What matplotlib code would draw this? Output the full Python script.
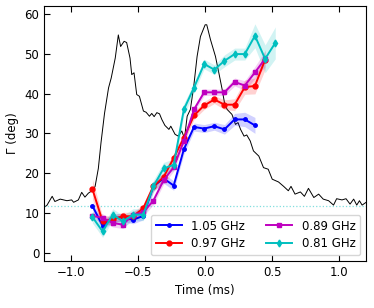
import numpy as np
import matplotlib
matplotlib.use("Agg")
import matplotlib.pyplot as plt

# pulse-phase grid (ms)
t0, dt = -0.84, 0.0757

pa_105 = [11.8, 6.8, 8.8, 8.9, 8.3, 9.3, 16.7, 18.7, 16.9, 26.0, 31.6, 31.2, 31.8, 31.0, 33.5, 33.5, 32.0]
err_105 = [1.0, 1.2, 1.0, 1.0, 1.0, 1.0, 1.2, 1.2, 1.2, 1.2, 1.0, 1.0, 1.0, 1.2, 1.5, 1.8, 2.0]
pa_097 = [16.0, 7.9, 8.5, 9.2, 9.2, 11.2, 16.7, 19.0, 23.8, 28.9, 34.5, 37.0, 38.5, 37.2, 37.2, 41.6, 41.9, 48.5]
err_097 = [2.5, 1.2, 1.0, 1.0, 1.0, 1.0, 1.2, 1.2, 1.2, 1.2, 1.0, 1.0, 1.0, 1.2, 1.5, 1.8, 2.0, 2.5]
pa_089 = [9.3, 8.8, 7.5, 7.1, 9.6, 10.2, 13.1, 18.2, 21.5, 28.1, 36.0, 40.3, 40.3, 40.3, 42.9, 42.0, 45.3, 48.7]
err_089 = [1.0, 1.0, 1.0, 1.0, 1.0, 1.0, 1.0, 1.0, 1.0, 1.0, 0.8, 0.8, 0.8, 0.8, 1.0, 1.2, 1.5, 2.0]
pa_081 = [9.0, 5.4, 9.6, 7.9, 9.6, 9.6, 16.7, 21.2, 22.1, 36.0, 41.5, 47.4, 46.0, 48.2, 49.9, 49.9, 54.5, 48.7, 52.7]
err_081 = [1.5, 1.5, 1.5, 1.5, 1.5, 1.5, 1.5, 1.5, 1.5, 1.5, 1.2, 1.2, 1.2, 1.5, 1.5, 1.5, 3.0, 3.5, 4.0]

# scaled pulse profile (ms, arbitrary units shown on the degree axis)
prof_t = [-1.2, -1.18, -1.14, -1.12, -1.08, -1.03, -0.995, -0.98, -0.945, -0.92, -0.896, -0.87, -0.834,
          -0.82, -0.796, -0.776, -0.75, -0.72, -0.70, -0.67, -0.647, -0.63, -0.604, -0.585, -0.56,
          -0.547, -0.53, -0.51, -0.49, -0.46, -0.44, -0.415, -0.398, -0.38, -0.36, -0.34, -0.323,
          -0.30, -0.27, -0.256, -0.224, -0.20, -0.174, -0.154, -0.134, -0.11, -0.085, -0.06, -0.035,
          0.0, 0.012, 0.04, 0.077, 0.102, 0.127, 0.144, 0.164, 0.20, 0.226, 0.245, 0.264, 0.29, 0.31,
          0.336, 0.36, 0.40, 0.435, 0.47, 0.50, 0.547, 0.585, 0.62, 0.64, 0.67, 0.71, 0.74, 0.77,
          0.81, 0.846, 0.88, 0.92, 0.957, 0.98, 1.02, 1.05, 1.08, 1.107, 1.13, 1.15, 1.17, 1.2]
prof_y = [11.5, 11.9, 14.2, 12.9, 13.5, 13.1, 13.3, 12.7, 13.3, 15.2, 14.0, 15.0, 15.8,
          16.7, 21.2, 27.7, 35.0, 41.4, 43.9, 48.9, 54.7, 51.8, 53.1, 52.8, 48.9,
          44.75, 45.2, 39.75, 39.3, 35.6, 35.3, 34.3, 35.0, 34.2, 35.2, 34.9, 33.5,
          32.0, 31.0, 31.8, 29.75, 29.3, 30.6, 28.7, 34.3, 36.0, 41.8, 49.3, 54.3,
          57.25, 57.25, 53.5, 49.3, 45.2, 41.0, 37.7, 36.0, 34.75, 32.25, 32.7, 31.0, 29.3, 29.6,
          28.1, 25.6, 24.3, 21.4, 21.0, 18.5, 17.8, 16.7, 15.6, 16.7, 14.75, 15.3, 14.2, 16.2,
          13.9, 14.75, 13.5, 13.1, 12.0, 13.6, 13.3, 13.6, 12.25, 13.5, 12.0, 13.1, 12.0, 12.7]

baseline_pa = 11.8

series = [
    ("1.05 GHz", pa_105, err_105, "blue", "."),
    ("0.97 GHz", pa_097, err_097, "red", "o"),
    ("0.89 GHz", pa_089, err_089, "m", "s"),
    ("0.81 GHz", pa_081, err_081, "c", "d"),
]

plt.rcParams['font.family'] = ['DejaVu Sans']
fs = 8.5
fig = plt.figure(figsize=(3.74, 3.08), dpi=100)
ax = fig.add_axes([0.118, 0.153, 0.861, 0.828])

ax.plot(prof_t, prof_y, color="black", lw=0.7, zorder=1)
ax.axhline(baseline_pa, color="c", ls=":", lw=0.9, alpha=0.5, zorder=1)

for label, pa, err, col, mk in series:
    t = t0 + dt * np.arange(len(pa))
    pa = np.array(pa)
    err = np.array(err)
    ax.fill_between(t, pa - err, pa + err, color=col, alpha=0.18, lw=0, zorder=2)
    ms = 5 if mk == "." else 3.5
    ax.plot(t, pa, color=col, marker=mk, ms=ms, lw=1.4, label=label, zorder=3)

ax.set_xlim(-1.2, 1.2)
ax.set_ylim(-2, 62)
ax.set_xticks([-1.0, -0.5, 0.0, 0.5, 1.0])
ax.set_yticks([0, 10, 20, 30, 40, 50, 60])
ax.tick_params(direction="in", top=True, right=False, labelsize=fs, length=4)
ax.set_xlabel("Time (ms)", fontsize=fs)
ax.set_ylabel("Γ (deg)", fontsize=fs)

ax.legend(loc="lower right", ncol=2, fontsize=fs, frameon=True, framealpha=0.8,
          handlelength=2.2, columnspacing=1.8, borderpad=0.4, labelspacing=0.4)

fig.savefig("out.png", dpi=100)
